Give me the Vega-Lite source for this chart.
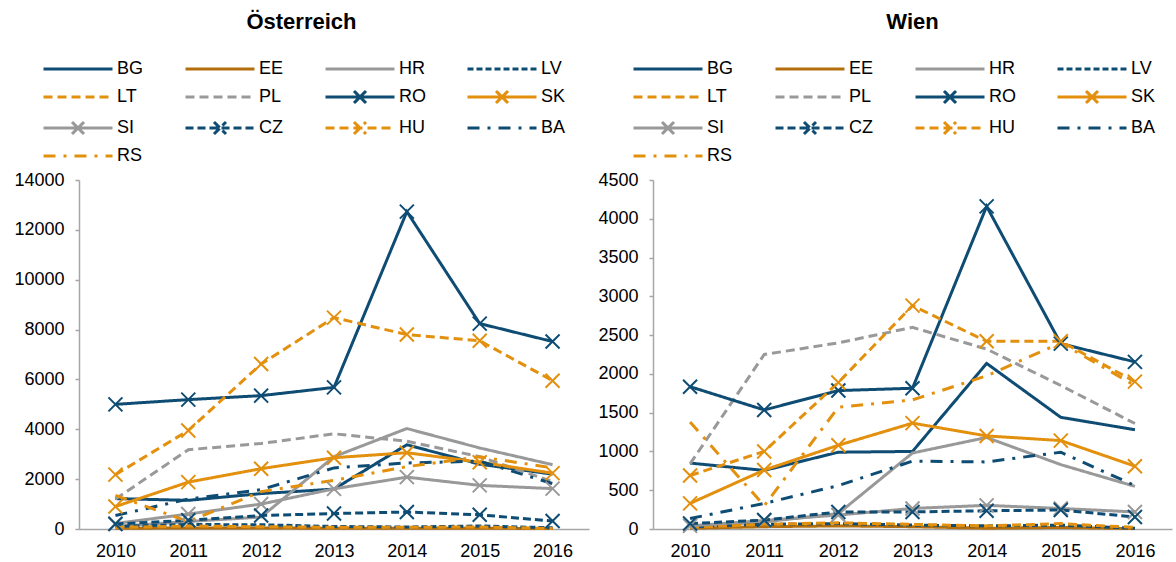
{
  "$schema": "https://vega.github.io/schema/vega-lite/v6.json",
  "padding": {"left": 13, "top": 11, "right": 4, "bottom": 4},
  "config": {
    "font": "Liberation Sans",
    "view": {"stroke": null},
    "axis": {"grid": false, "domainColor": "#a6a6a6", "domainWidth": 1.5, "tickColor": "#a6a6a6", "tickWidth": 1.5, "labelFontSize": 18, "labelColor": "#000000", "labelFont": "Liberation Sans", "title": null},
    "title": {"fontSize": 22, "fontWeight": "bold", "color": "#000000", "font": "Liberation Sans", "anchor": "middle"},
    "legend": {"labelFontSize": 18, "labelColor": "#000000", "labelFont": "Liberation Sans"}
  },
  "datasets": {
    "at": [
      {"c":"BG","year":2010,"v":1220},{"c":"BG","year":2011,"v":1150},{"c":"BG","year":2012,"v":1420},{"c":"BG","year":2013,"v":1600},{"c":"BG","year":2014,"v":3380},{"c":"BG","year":2015,"v":2600},{"c":"BG","year":2016,"v":2200},
      {"c":"EE","year":2010,"v":30},{"c":"EE","year":2011,"v":40},{"c":"EE","year":2012,"v":40},{"c":"EE","year":2013,"v":30},{"c":"EE","year":2014,"v":30},{"c":"EE","year":2015,"v":30},{"c":"EE","year":2016,"v":20},
      {"c":"HR","year":2010,"v":100},{"c":"HR","year":2011,"v":300},{"c":"HR","year":2012,"v":480},{"c":"HR","year":2013,"v":2900},{"c":"HR","year":2014,"v":4030},{"c":"HR","year":2015,"v":3250},{"c":"HR","year":2016,"v":2580},
      {"c":"LV","year":2010,"v":100},{"c":"LV","year":2011,"v":180},{"c":"LV","year":2012,"v":170},{"c":"LV","year":2013,"v":100},{"c":"LV","year":2014,"v":80},{"c":"LV","year":2015,"v":120},{"c":"LV","year":2016,"v":50},
      {"c":"LT","year":2010,"v":60},{"c":"LT","year":2011,"v":120},{"c":"LT","year":2012,"v":90},{"c":"LT","year":2013,"v":70},{"c":"LT","year":2014,"v":70},{"c":"LT","year":2015,"v":80},{"c":"LT","year":2016,"v":20},
      {"c":"PL","year":2010,"v":1200},{"c":"PL","year":2011,"v":3180},{"c":"PL","year":2012,"v":3430},{"c":"PL","year":2013,"v":3820},{"c":"PL","year":2014,"v":3520},{"c":"PL","year":2015,"v":2900},{"c":"PL","year":2016,"v":1900},
      {"c":"RO","year":2010,"v":5000},{"c":"RO","year":2011,"v":5190},{"c":"RO","year":2012,"v":5350},{"c":"RO","year":2013,"v":5680},{"c":"RO","year":2014,"v":12730},{"c":"RO","year":2015,"v":8240},{"c":"RO","year":2016,"v":7520},
      {"c":"SK","year":2010,"v":900},{"c":"SK","year":2011,"v":1880},{"c":"SK","year":2012,"v":2420},{"c":"SK","year":2013,"v":2860},{"c":"SK","year":2014,"v":3060},{"c":"SK","year":2015,"v":2680},{"c":"SK","year":2016,"v":2240},
      {"c":"SI","year":2010,"v":220},{"c":"SI","year":2011,"v":600},{"c":"SI","year":2012,"v":1000},{"c":"SI","year":2013,"v":1610},{"c":"SI","year":2014,"v":2080},{"c":"SI","year":2015,"v":1750},{"c":"SI","year":2016,"v":1620},
      {"c":"CZ","year":2010,"v":200},{"c":"CZ","year":2011,"v":350},{"c":"CZ","year":2012,"v":540},{"c":"CZ","year":2013,"v":620},{"c":"CZ","year":2014,"v":680},{"c":"CZ","year":2015,"v":570},{"c":"CZ","year":2016,"v":320},
      {"c":"HU","year":2010,"v":2180},{"c":"HU","year":2011,"v":3950},{"c":"HU","year":2012,"v":6620},{"c":"HU","year":2013,"v":8480},{"c":"HU","year":2014,"v":7800},{"c":"HU","year":2015,"v":7550},{"c":"HU","year":2016,"v":5950},
      {"c":"BA","year":2010,"v":540},{"c":"BA","year":2011,"v":1200},{"c":"BA","year":2012,"v":1580},{"c":"BA","year":2013,"v":2450},{"c":"BA","year":2014,"v":2650},{"c":"BA","year":2015,"v":2720},{"c":"BA","year":2016,"v":1820},
      {"c":"RS","year":2010,"v":1350},{"c":"RS","year":2011,"v":300},{"c":"RS","year":2012,"v":1500},{"c":"RS","year":2013,"v":1950},{"c":"RS","year":2014,"v":2500},{"c":"RS","year":2015,"v":2900},{"c":"RS","year":2016,"v":2450}
    ],
    "w": [
      {"c":"BG","year":2010,"v":850},{"c":"BG","year":2011,"v":755},{"c":"BG","year":2012,"v":990},{"c":"BG","year":2013,"v":1000},{"c":"BG","year":2014,"v":2135},{"c":"BG","year":2015,"v":1440},{"c":"BG","year":2016,"v":1280},
      {"c":"EE","year":2010,"v":10},{"c":"EE","year":2011,"v":30},{"c":"EE","year":2012,"v":40},{"c":"EE","year":2013,"v":30},{"c":"EE","year":2014,"v":10},{"c":"EE","year":2015,"v":20},{"c":"EE","year":2016,"v":5},
      {"c":"HR","year":2010,"v":30},{"c":"HR","year":2011,"v":90},{"c":"HR","year":2012,"v":200},{"c":"HR","year":2013,"v":980},{"c":"HR","year":2014,"v":1180},{"c":"HR","year":2015,"v":830},{"c":"HR","year":2016,"v":550},
      {"c":"LV","year":2010,"v":30},{"c":"LV","year":2011,"v":60},{"c":"LV","year":2012,"v":70},{"c":"LV","year":2013,"v":50},{"c":"LV","year":2014,"v":40},{"c":"LV","year":2015,"v":50},{"c":"LV","year":2016,"v":10},
      {"c":"LT","year":2010,"v":20},{"c":"LT","year":2011,"v":60},{"c":"LT","year":2012,"v":80},{"c":"LT","year":2013,"v":60},{"c":"LT","year":2014,"v":40},{"c":"LT","year":2015,"v":70},{"c":"LT","year":2016,"v":20},
      {"c":"PL","year":2010,"v":840},{"c":"PL","year":2011,"v":2250},{"c":"PL","year":2012,"v":2400},{"c":"PL","year":2013,"v":2600},{"c":"PL","year":2014,"v":2320},{"c":"PL","year":2015,"v":1850},{"c":"PL","year":2016,"v":1360},
      {"c":"RO","year":2010,"v":1835},{"c":"RO","year":2011,"v":1535},{"c":"RO","year":2012,"v":1785},{"c":"RO","year":2013,"v":1815},{"c":"RO","year":2014,"v":4160},{"c":"RO","year":2015,"v":2390},{"c":"RO","year":2016,"v":2155},
      {"c":"SK","year":2010,"v":330},{"c":"SK","year":2011,"v":760},{"c":"SK","year":2012,"v":1080},{"c":"SK","year":2013,"v":1365},{"c":"SK","year":2014,"v":1200},{"c":"SK","year":2015,"v":1140},{"c":"SK","year":2016,"v":810},
      {"c":"SI","year":2010,"v":40},{"c":"SI","year":2011,"v":110},{"c":"SI","year":2012,"v":180},{"c":"SI","year":2013,"v":265},{"c":"SI","year":2014,"v":305},{"c":"SI","year":2015,"v":265},{"c":"SI","year":2016,"v":220},
      {"c":"CZ","year":2010,"v":70},{"c":"CZ","year":2011,"v":115},{"c":"CZ","year":2012,"v":220},{"c":"CZ","year":2013,"v":220},{"c":"CZ","year":2014,"v":235},{"c":"CZ","year":2015,"v":245},{"c":"CZ","year":2016,"v":155},
      {"c":"HU","year":2010,"v":690},{"c":"HU","year":2011,"v":1000},{"c":"HU","year":2012,"v":1890},{"c":"HU","year":2013,"v":2880},{"c":"HU","year":2014,"v":2420},{"c":"HU","year":2015,"v":2420},{"c":"HU","year":2016,"v":1900},
      {"c":"BA","year":2010,"v":135},{"c":"BA","year":2011,"v":330},{"c":"BA","year":2012,"v":560},{"c":"BA","year":2013,"v":875},{"c":"BA","year":2014,"v":865},{"c":"BA","year":2015,"v":990},{"c":"BA","year":2016,"v":560},
      {"c":"RS","year":2010,"v":1380},{"c":"RS","year":2011,"v":300},{"c":"RS","year":2012,"v":1570},{"c":"RS","year":2013,"v":1665},{"c":"RS","year":2014,"v":1975},{"c":"RS","year":2015,"v":2400},{"c":"RS","year":2016,"v":1850}
    ]
  },
  "resolve": {"scale": {"color": "independent", "strokeDash": "independent", "shape": "independent"}, "legend": {"color": "independent", "strokeDash": "independent", "shape": "independent"}},
  "spacing": 8,
  "hconcat": [
    {
      "title": {"text": "Österreich", "frame": "bounds", "offset": 26},
      "width": 510,
      "height": 349,
      "data": {"name": "at"},
      "encoding": {
        "x": {"field": "year", "type": "ordinal", "scale": {"type": "point", "padding": 0.5}, "axis": {"labelAngle": 0, "ticks": false, "labelPadding": 13}},
        "y": {"field": "v", "type": "quantitative", "scale": {"domain": [0, 14000], "nice": false}, "axis": {"values": [0, 2000, 4000, 6000, 8000, 10000, 12000, 14000], "format": "d", "tickSize": 4, "labelPadding": 11}},
        "color": {"field": "c", "type": "nominal",
          "scale": {"domain": ["BG","EE","HR","LV","LT","PL","RO","SK","SI","CZ","HU","BA","RS"], "range": ["#0e4c74","#b46f0c","#999999","#0e4c74","#e3900e","#999999","#0e4c74","#e3900e","#999999","#0e4c74","#e3900e","#0e4c74","#e3900e"]},
          "legend": {"title": null, "orient": "none", "direction": "horizontal", "values": ["BG","EE","HR","LV","LT","PL","RO","SK","SI","CZ","HU","BA","RS"], "legendX": -10, "legendY": -120, "columns": 4, "columnPadding": 35, "rowPadding": 7, "symbolSize": 225, "symbolStrokeWidth": 3, "symbolOpacity": 1, "labelOffset": 30, "labelFontSize": 18}
        }
      },
      "layer": [
        {"mark": {"type": "line", "strokeWidth": 3},
         "encoding": {"strokeDash": {"field": "c", "type": "nominal", "scale": {"domain": ["BG","EE","HR","LV","LT","PL","RO","SK","SI","CZ","HU","BA","RS"], "range": [[1,0],[1,0],[1,0],[6,3],[9,5],[9,5],[1,0],[1,0],[1,0],[8,4],[9,5],[12,8,3,8],[12,8,3,8]]}}}},
        {"transform": [{"filter": "false"}],
         "mark": {"type": "point", "filled": false},
         "encoding": {"shape": {"field": "c", "type": "nominal", "scale": {"domain": ["BG","EE","HR","LV","LT","PL","RO","SK","SI","CZ","HU","BA","RS"], "range": ["M-4.6,0H4.6","M-4.6,0H4.6","M-4.6,0H4.6","M-4.6,0H4.6","M-4.6,0H4.6","M-4.6,0H4.6","M-4.6,0H4.6M-0.8,-0.8L0.8,0.8M-0.8,0.8L0.8,-0.8","M-4.6,0H4.6M-0.8,-0.8L0.8,0.8M-0.8,0.8L0.8,-0.8","M-4.6,0H4.6M-0.8,-0.8L0.8,0.8M-0.8,0.8L0.8,-0.8","M-4.6,0H4.6M-0.8,-0.8L0.8,0.8M-0.8,0.8L0.8,-0.8","M-4.6,0H4.6M-0.8,-0.8L0.8,0.8M-0.8,0.8L0.8,-0.8","M-4.6,0H4.6","M-4.6,0H4.6"]}}}},
        {"transform": [{"filter": {"field": "c", "oneOf": ["RO","SK","SI","CZ","HU"]}}],
         "mark": {"type": "point", "shape": "M-1,-1L1,1M-1,1L1,-1", "size": 196, "strokeWidth": 2, "filled": false, "opacity": 1}}
      ]
    },
    {
      "title": {"text": "Wien", "frame": "group", "offset": 26},
      "width": 519,
      "height": 349,
      "data": {"name": "w"},
      "encoding": {
        "x": {"field": "year", "type": "ordinal", "scale": {"type": "point", "padding": 0.5}, "axis": {"labelAngle": 0, "ticks": false, "labelPadding": 13}},
        "y": {"field": "v", "type": "quantitative", "scale": {"domain": [0, 4500], "nice": false}, "axis": {"values": [0, 500, 1000, 1500, 2000, 2500, 3000, 3500, 4000, 4500], "format": "d", "tickSize": 4, "labelPadding": 11}},
        "color": {"field": "c", "type": "nominal",
          "scale": {"domain": ["BG","EE","HR","LV","LT","PL","RO","SK","SI","CZ","HU","BA","RS"], "range": ["#0e4c74","#b46f0c","#999999","#0e4c74","#e3900e","#999999","#0e4c74","#e3900e","#999999","#0e4c74","#e3900e","#0e4c74","#e3900e"]},
          "legend": {"title": null, "orient": "none", "direction": "horizontal", "values": ["BG","EE","HR","LV","LT","PL","RO","SK","SI","CZ","HU","BA","RS"], "legendX": 6, "legendY": -120, "columns": 4, "columnPadding": 35, "rowPadding": 7, "symbolSize": 225, "symbolStrokeWidth": 3, "symbolOpacity": 1, "labelOffset": 30, "labelFontSize": 18}
        }
      },
      "layer": [
        {"mark": {"type": "line", "strokeWidth": 3},
         "encoding": {"strokeDash": {"field": "c", "type": "nominal", "scale": {"domain": ["BG","EE","HR","LV","LT","PL","RO","SK","SI","CZ","HU","BA","RS"], "range": [[1,0],[1,0],[1,0],[6,3],[9,5],[9,5],[1,0],[1,0],[1,0],[8,4],[9,5],[12,8,3,8],[12,8,3,8]]}}}},
        {"transform": [{"filter": "false"}],
         "mark": {"type": "point", "filled": false},
         "encoding": {"shape": {"field": "c", "type": "nominal", "scale": {"domain": ["BG","EE","HR","LV","LT","PL","RO","SK","SI","CZ","HU","BA","RS"], "range": ["M-4.6,0H4.6","M-4.6,0H4.6","M-4.6,0H4.6","M-4.6,0H4.6","M-4.6,0H4.6","M-4.6,0H4.6","M-4.6,0H4.6M-0.8,-0.8L0.8,0.8M-0.8,0.8L0.8,-0.8","M-4.6,0H4.6M-0.8,-0.8L0.8,0.8M-0.8,0.8L0.8,-0.8","M-4.6,0H4.6M-0.8,-0.8L0.8,0.8M-0.8,0.8L0.8,-0.8","M-4.6,0H4.6M-0.8,-0.8L0.8,0.8M-0.8,0.8L0.8,-0.8","M-4.6,0H4.6M-0.8,-0.8L0.8,0.8M-0.8,0.8L0.8,-0.8","M-4.6,0H4.6","M-4.6,0H4.6"]}}}},
        {"transform": [{"filter": {"field": "c", "oneOf": ["RO","SK","SI","CZ","HU"]}}],
         "mark": {"type": "point", "shape": "M-1,-1L1,1M-1,1L1,-1", "size": 196, "strokeWidth": 2, "filled": false, "opacity": 1}}
      ]
    }
  ]
}
